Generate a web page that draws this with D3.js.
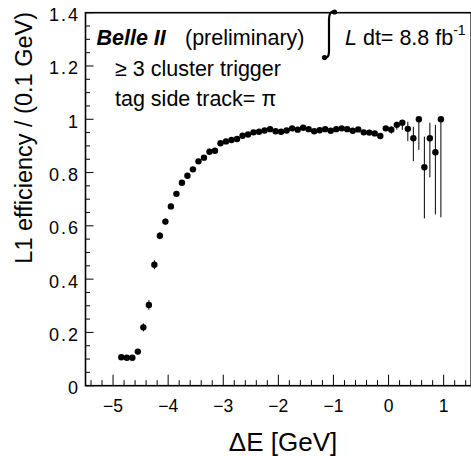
<!DOCTYPE html>
<html>
<head>
<meta charset="utf-8">
<script src="https://cdn.jsdelivr.net/npm/d3@7"></script>
<style>
body { margin: 0; background: #fff; }
text { font-family: "Liberation Sans", Arial, sans-serif; fill: #000; }
</style>
</head>
<body>
<div id="chart"></div>
<script>
// bin centres in GeV (0.1 GeV bins)
var binCenters = [-4.85,-4.75,-4.65,-4.55,-4.45,-4.35,-4.25,-4.15,-4.05,-3.95,
  -3.85,-3.75,-3.65,-3.55,-3.45,-3.35,-3.25,-3.15,-3.05,-2.95,
  -2.85,-2.75,-2.65,-2.55,-2.45,-2.35,-2.25,-2.15,-2.05,-1.95,
  -1.85,-1.75,-1.65,-1.55,-1.45,-1.35,-1.25,-1.15,-1.05,-0.95,
  -0.85,-0.75,-0.65,-0.55,-0.45,-0.35,-0.25,-0.15,-0.05,0.05,
  0.15,0.25,0.35,0.45,0.55,0.65,0.75,0.85,0.95]
var efficiency = [0.107,0.105,0.105,0.128,0.219,0.303,0.454,0.563,0.616,0.673,
  0.720,0.762,0.788,0.812,0.842,0.856,0.878,0.882,0.910,0.917,
  0.922,0.926,0.938,0.943,0.951,0.953,0.958,0.963,0.955,0.953,
  0.958,0.966,0.961,0.968,0.963,0.955,0.959,0.963,0.957,0.963,
  0.966,0.963,0.957,0.962,0.951,0.950,0.947,0.937,0.966,0.961,
  0.979,0.987,0.964,0.929,1.000,0.820,0.929,0.876,1.000]
var errLow = [0.008,0.008,0.008,0.010,0.015,0.018,0.017,0.013,0.012,0.010,
  0.009,0.008,0.008,0.007,0.007,0.006,0.006,0.006,0.005,0.005,
  0.005,0.005,0.005,0.005,0.005,0.005,0.005,0.005,0.005,0.005,
  0.005,0.005,0.005,0.005,0.005,0.005,0.005,0.005,0.005,0.005,
  0.005,0.005,0.005,0.006,0.006,0.007,0.008,0.009,0.010,0.015,
  0.018,0.027,0.046,0.086,0.115,0.192,0.147,0.233,0.368]
var errHigh = [0.008,0.008,0.008,0.010,0.015,0.018,0.017,0.013,0.012,0.010,
  0.009,0.008,0.008,0.007,0.007,0.006,0.006,0.006,0.005,0.005,
  0.005,0.005,0.005,0.005,0.005,0.005,0.005,0.005,0.005,0.005,
  0.005,0.005,0.005,0.005,0.005,0.005,0.005,0.005,0.005,0.005,
  0.005,0.005,0.005,0.006,0.006,0.007,0.008,0.008,0.008,0.012,
  0.012,0.008,0.027,0.043,0.000,0.115,0.058,0.103,0.000]
var xMajor = [-5,-4,-3,-2,-1,0,1]
var yMajor = [0,0.2,0.4,0.6,0.8,1,1.2,1.4]

var width = 471, height = 456
var margin = {top: 12.7, left: 85.5, right: 0, bottom: 70.3}

var svg = d3.select("#chart").append("svg")
  .attr("width", width).attr("height", height)

var x = d3.scaleLinear().domain([-5.5, 1.5]).range([margin.left, width - margin.right + 0.2])
var y = d3.scaleLinear().domain([0, 1.4]).range([height - margin.bottom, margin.top])

var points = binCenters.map(function(c, i){
  return {x: c, y: efficiency[i], lo: errLow[i], hi: errHigh[i]}
})

// frame
svg.append("rect")
  .attr("x", x(-5.5)).attr("y", y(1.4))
  .attr("width", x(1.5) - x(-5.5)).attr("height", y(0) - y(1.4))
  .attr("fill", "none").attr("stroke", "#000").attr("stroke-width", 1.6)

// x ticks (inward, pointing up)
var xMinor = d3.range(-27, 8).map(function(k){ return k / 5 })
svg.selectAll(".xtick").data(xMinor).enter().append("line")
  .attr("x1", function(d){ return x(d) }).attr("x2", function(d){ return x(d) })
  .attr("y1", y(0))
  .attr("y2", function(d){ return Math.abs(d - Math.round(d)) < 1e-6 ? y(0) - 11 : y(0) - 5.5 })
  .attr("stroke", "#000").attr("stroke-width", 1)
svg.selectAll(".xlab").data(xMajor).enter().append("text")
  .attr("x", function(d){ return x(d) }).attr("y", 412)
  .attr("text-anchor", "middle").attr("font-size", 17.5)
  .text(function(d){ return d < 0 ? "\u2212" + Math.abs(d) : d })

// y ticks (inward, pointing right)
var yMinor = d3.range(0, 29).map(function(k){ return k / 20 })
svg.selectAll(".ytick").data(yMinor).enter().append("line")
  .attr("x1", x(-5.5))
  .attr("x2", function(d, i){ return i % 4 == 0 ? x(-5.5) + 8 : x(-5.5) + 4.5 })
  .attr("y1", function(d){ return y(d) }).attr("y2", function(d){ return y(d) })
  .attr("stroke", "#000").attr("stroke-width", 1)
svg.selectAll(".ylab").data(yMajor).enter().append("text")
  .attr("x", 80).attr("y", function(d){ return y(d) + 8.5 })
  .attr("text-anchor", "end").attr("font-size", 18).attr("letter-spacing", 2)
  .text(function(d){ return d3.format("~g")(d) })

// axis titles
svg.append("text").attr("x", 283).attr("y", 451)
  .attr("text-anchor", "middle").attr("font-size", 26)
  .text("\u0394E [GeV]")
svg.append("text")
  .attr("transform", "translate(32," + 12 + ") rotate(-90)")
  .attr("text-anchor", "end").attr("font-size", 23.5)
  .text("L1 efficiency / (0.1 GeV)")

// error bars
svg.selectAll(".err").data(points).enter().append("line")
  .attr("x1", function(d){ return x(d.x) }).attr("x2", function(d){ return x(d.x) })
  .attr("y1", function(d){ return y(d.y - d.lo) }).attr("y2", function(d){ return y(d.y + d.hi) })
  .attr("stroke", "#000").attr("stroke-width", 1)

// markers
svg.selectAll(".dot").data(points).enter().append("circle")
  .attr("cx", function(d){ return x(d.x) }).attr("cy", function(d){ return y(d.y) })
  .attr("r", 3.2).attr("fill", "#000")

// labels
var labelSize = 21.5
var t1 = svg.append("text").attr("x", 96.5).attr("y", 45).attr("font-size", labelSize)
t1.append("tspan").attr("font-weight", "bold").attr("font-style", "italic").text("Belle II")
svg.append("text").attr("x", 185).attr("y", 45).attr("font-size", labelSize).text("(preliminary)")
svg.append("text").attr("x", 115).attr("y", 76).attr("font-size", labelSize).text("\u2265 3 cluster trigger")
svg.append("text").attr("x", 115).attr("y", 106).attr("font-size", labelSize).text("tag side track= \u03c0")

// integral sign
svg.append("path")
  .attr("d", "M334.5,12 C331,10.5 329,14 329,19 L329,51 C329,56 327.5,58.5 324.5,57.5")
  .attr("fill", "none").attr("stroke", "#000").attr("stroke-width", 2.2)
svg.append("circle").attr("cx", 334.5).attr("cy", 12).attr("r", 2.6).attr("fill", "#000")
svg.append("circle").attr("cx", 324.5).attr("cy", 57.5).attr("r", 2.6).attr("fill", "#000")

var lum = svg.append("text").attr("x", 345).attr("y", 45).attr("font-size", labelSize)
lum.append("tspan").attr("font-style", "italic").text("L")
lum.append("tspan").text(" dt= 8.8 fb")
lum.append("tspan").attr("font-size", 14).attr("dy", -10).text("-1")
</script>
</body>
</html>
